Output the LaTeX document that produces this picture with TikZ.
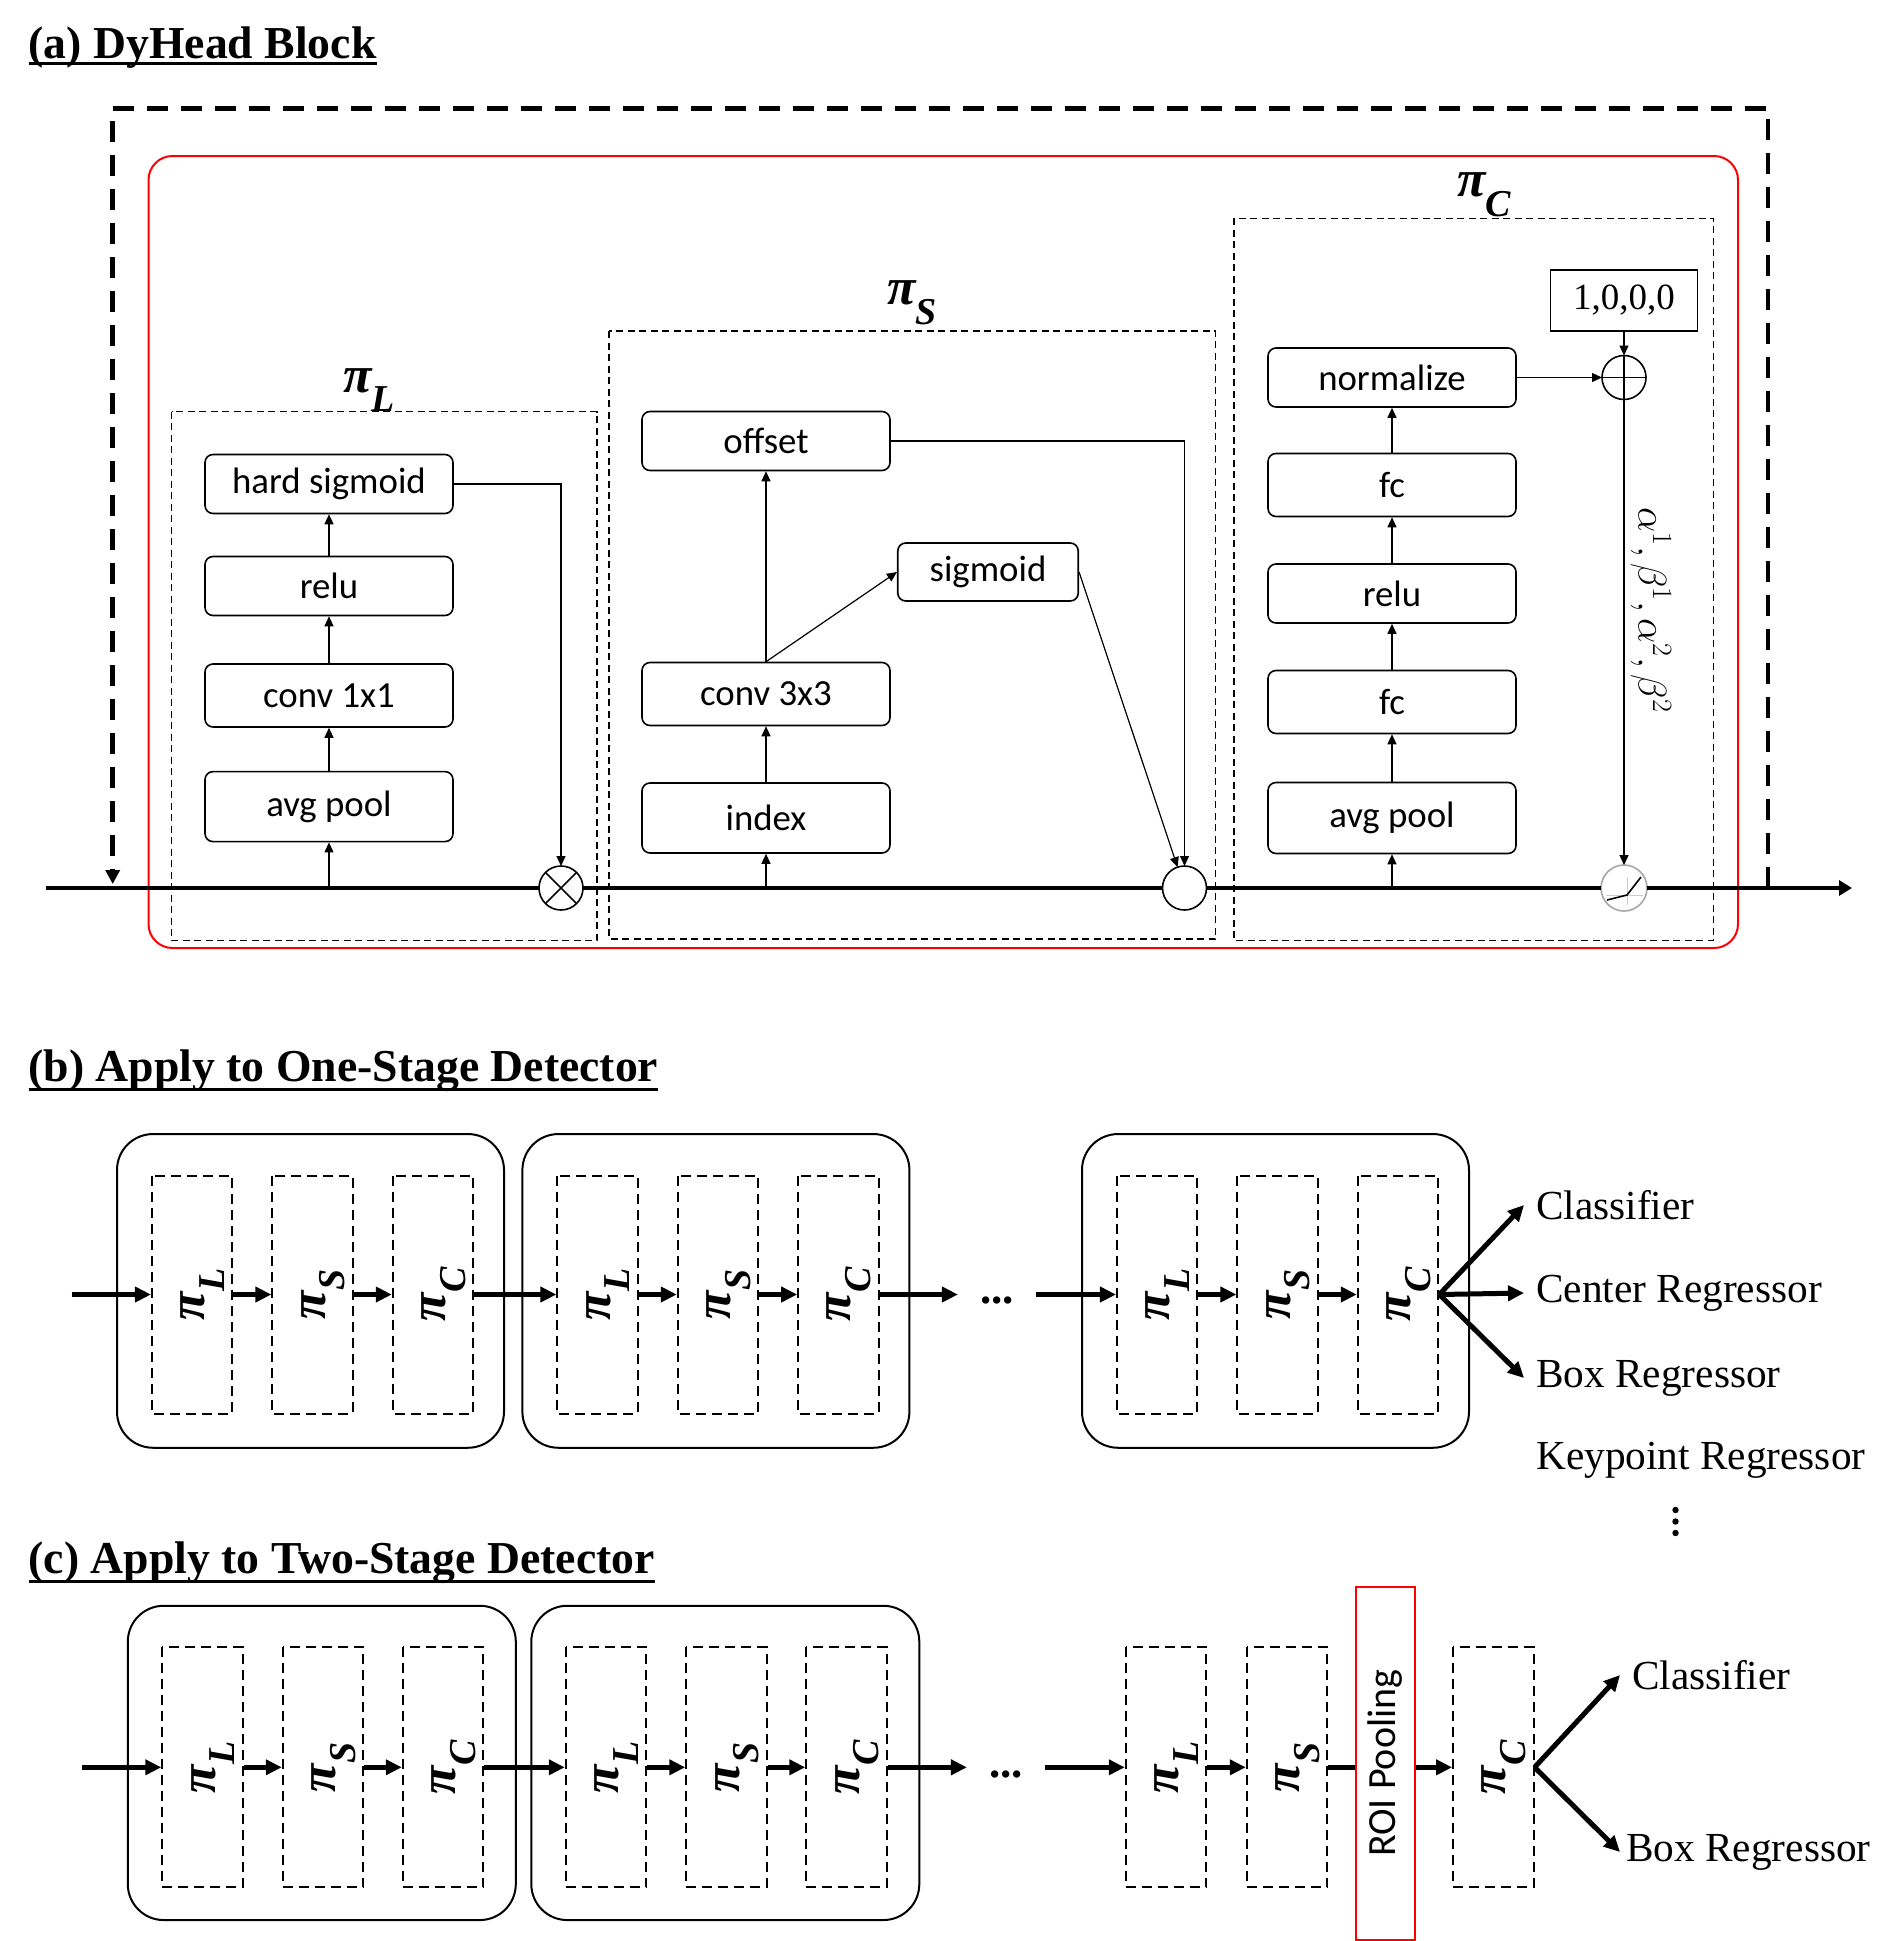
\RequirePackage{fix-cm}
\documentclass[tikz,border=0pt]{standalone}
\usepackage{amsmath}
\usepackage{fontspec}
\setmainfont{Liberation Serif}
\newfontfamily\calibrifam{Carlito}
\usepackage{xcolor}
\usepackage{tikz}
\usetikzlibrary{arrows.meta,positioning,calc}

\newcommand{\opfnt}{\calibrifam\fontsize{36.8}{44}\selectfont}
\newcommand{\roifnt}{\calibrifam\fontsize{40}{48}\selectfont}
\newcommand{\headfnt}{\bfseries\fontsize{45.7}{55}\selectfont}
\newcommand{\outfnt}{\fontsize{41.3}{50}\selectfont}
\newcommand{\pifnt}{\bfseries\itshape\fontsize{52}{62}\selectfont}
\newcommand{\coeffnt}{\fontsize{40}{48}\selectfont}
\newcommand{\initfnt}{\fontsize{37}{44}\selectfont}
\newcommand{\dotfnt}{\bfseries\fontsize{45}{54}\selectfont}
\newcommand{\pisub}[1]{π\raisebox{-0.38em}{\fontsize{38}{46}\selectfont #1}}

\begin{document}
\begin{tikzpicture}[x=1pt, y=-1pt,
    opbox/.style={draw, rounded corners=8pt, line width=1.6pt, minimum width=248pt, inner sep=0pt, font=\opfnt},
    opcirc/.style={circle, draw, fill=white, line width=1.6pt, minimum size=44pt, inner sep=0pt, outer sep=0pt},
    dashbox/.style={dash pattern=on 7pt off 4.5pt, line width=1.5pt},
    thinarr/.style={line width=1.2pt, -{Triangle[length=10pt,width=9pt]}},
    mainline/.style={line width=4pt},
    skipline/.style={line width=4.5pt, dash pattern=on 21pt off 13pt, -{Triangle[length=14pt,width=14pt]}},
    pilabel/.style={inner sep=0pt, font=\pifnt},
    paneltitle/.style={anchor=base west, inner sep=0pt, font=\headfnt},
    block/.style={draw, rounded corners=36pt, line width=2pt},
    stagebox/.style={draw, rotate=90, dash pattern=on 10pt off 6pt, line width=2pt, minimum width=238pt, minimum height=80.5pt, inner sep=0pt, text height=32pt, text depth=7pt, font=\pifnt},
    fatarr/.style={line width=5pt, -{Triangle[length=16pt,width=15pt]}},
    outlabel/.style={anchor=west, inner xsep=12pt, inner ysep=0pt, font=\outfnt},
    dotsnode/.style={inner xsep=22pt, inner ysep=0pt, font=\dotfnt}]
    \useasboundingbox (0,0) rectangle (1902,1941);

    % (a) DyHead block
    \node[paneltitle] (ta) at (28.5,58.8) {(a) DyHead Block};
    \draw[line width=3pt] ([yshift=-5pt]ta.base west) -- ([yshift=-5pt]ta.base east);

    \draw[red, line width=2pt, rounded corners=24pt] (148.5,156) rectangle (1738,948);
    \draw[dashbox] (171.5,411.5) rectangle (597,940.6);
    \draw[dashbox] (609,331) rectangle (1215.5,939);
    \draw[dashbox] (1234,218.4) rectangle (1713.6,940.6);
    \node[pilabel] (pl) at (369,390) {\pisub{L}};
    \node[pilabel] (ps) at (912,303) {\pisub{S}};
    \node[pilabel] (pc) at (1484,195) {\pisub{C}};

    % scale-aware attention
    \node[opbox, minimum height=59pt] (lsig) at (329,484) {hard sigmoid};
    \node[opbox, minimum height=59pt] (lrelu) at (329,586) {relu};
    \node[opbox, minimum height=63pt] (lconv) at (329,695.5) {conv 1x1};
    \node[opbox, minimum height=70pt] (lpool) at (329,806.6) {avg pool};

    % spatial-aware attention
    \node[opbox, minimum height=59pt] (soff) at (766,441) {offset};
    \node[opbox, minimum height=58pt, minimum width=180.5pt] (ssig) at (988,572) {sigmoid};
    \node[opbox, minimum height=63pt] (sconv) at (766,694) {conv 3x3};
    \node[opbox, minimum height=70pt] (sidx) at (766,818) {index};

    % task-aware attention
    \node[draw, line width=1.6pt, minimum width=147pt, minimum height=61pt, inner sep=0pt, font=\initfnt] (init) at (1624,300.5) {1,0,0,0};
    \node[opbox, minimum height=59pt] (cnorm) at (1392,377.5) {normalize};
    \node[opbox, minimum height=63pt] (cfcb) at (1392,485) {fc};
    \node[opbox, minimum height=59pt] (crelu) at (1392,593.5) {relu};
    \node[opbox, minimum height=63pt] (cfca) at (1392,702) {fc};
    \node[opbox, minimum height=71pt] (cpool) at (1392,818) {avg pool};

    \coordinate (in) at (45.5,888);
    \coordinate (out) at (1852,888);
    \node[opcirc] (mul) at (561,888) {};
    \node[opcirc] (mid) at (1184.5,888) {};
    \node[opcirc] (sum) at (1624,377.5) {};
    \node[opcirc, draw=gray!70, minimum size=46pt] (act) at (1624,888) {};
    \draw[line width=1.6pt] (mul.north east) -- (mul.south west) (mul.north west) -- (mul.south east);
    \draw[line width=1.6pt] (sum.north) -- (sum.south) (sum.west) -- (sum.east);
    \begin{scope}[shift={(act)}]
        \draw[gray!40, line width=1pt] (-18,7) -- (19,7) (3,-11) -- (3,17);
        \draw[line width=1.6pt] (-17,12) -- (3,7) -- (17,-11);
    \end{scope}

    \draw[mainline] (in) -- (mul) -- (mid) -- (act);
    \draw[mainline, -{Triangle[length=13pt,width=15pt]}] (act) -- (out);

    \draw[thinarr] (lpool |- in) -- (lpool);
    \draw[thinarr] (lpool) -- (lconv);
    \draw[thinarr] (lconv) -- (lrelu);
    \draw[thinarr] (lrelu) -- (lsig);
    \draw[thinarr] (lsig.east) -| (mul);

    \draw[thinarr] (sidx |- in) -- (sidx);
    \draw[thinarr] (sidx) -- (sconv);
    \draw[thinarr] (sconv) -- (soff);
    \draw[thinarr] (sconv.north) -- (ssig.west);
    \draw[thinarr] (soff.east) -| (mid);
    \draw[thinarr] (ssig.east) -- (mid);

    \draw[thinarr] (cpool |- in) -- (cpool);
    \draw[thinarr] (cpool) -- (cfca);
    \draw[thinarr] (cfca) -- (crelu);
    \draw[thinarr] (crelu) -- (cfcb);
    \draw[thinarr] (cfcb) -- (cnorm);
    \draw[thinarr] (cnorm) -- (sum);
    \draw[thinarr] (init) -- (sum);
    \draw[thinarr] (sum) -- (act);
    \node[rotate=-90, font=\coeffnt] (coef) at (1651,610) {$\alpha^1,\beta^1,\alpha^2,\beta^2$};

    \coordinate (skipR) at (1768,888);
    \coordinate (skipT) at (112.7,108.3);
    \coordinate (skipL) at (112.7,884);
    \draw[skipline] (skipR) |- (skipT) -- (skipL);

    % (b) one-stage detector
    \node[paneltitle] (tb) at (28.5,1081.7) {(b) Apply to One-Stage Detector};
    \draw[line width=3pt] ([yshift=-7.3pt]tb.base west) -- ([yshift=-7.3pt]tb.base east);

    \foreach \bx/\bn in {117/1,522.4/2,1082/3} {
        \node[block, minimum width=387pt, minimum height=313.7pt] (b\bn) at (\bx+193.5,1290.9) {};
        \node[stagebox] (bL\bn) at (\bx+75.2,1294.5) {\pisub{L}};
        \node[stagebox] (bS\bn) at (\bx+195.6,1294.5) {\pisub{S}};
        \node[stagebox] (bC\bn) at (\bx+316,1294.5) {\pisub{C}};
        \draw[fatarr] (bL\bn) -- (bS\bn);
        \draw[fatarr] (bS\bn) -- (bC\bn);
    }
    \coordinate (bin) at (71.5,1294.5);
    \draw[fatarr] (bin) -- (bL1);
    \draw[fatarr] (bC1) -- (bL2);
    \node[dotsnode] (bdots) at (997,1300.7) {...};
    \draw[fatarr] (bC2) -- (bdots.west |- bC2);
    \draw[fatarr] (bdots.east |- bL3) -- (bL3);

    \node[outlabel] (bcls) at (1524,1205) {Classifier};
    \node[outlabel] (bctr) at (1524,1293) {Center Regressor};
    \node[outlabel] (bbox) at (1524,1378) {Box Regressor};
    \node[outlabel] (bkey) at (1524,1460) {Keypoint Regressor};
    \draw[fatarr] (bC3.south) -- (bcls.west);
    \draw[fatarr] (bC3.south) -- (bctr.west);
    \draw[fatarr] (bC3.south) -- (bbox.west);
    \foreach \y in {1510,1521.5,1533} {
        \fill (1675.5,\y) circle (3.2pt);
    }

    % (c) two-stage detector
    \node[paneltitle] (tc) at (28.5,1573.3) {(c) Apply to Two-Stage Detector};
    \draw[line width=3pt] ([yshift=-7.7pt]tc.base west) -- ([yshift=-7.7pt]tc.base east);

    \foreach \bx/\bn in {128/1,531.5/2} {
        \node[block, minimum width=388pt, minimum height=314.3pt] (c\bn) at (\bx+193.8,1762.9) {};
        \node[stagebox, minimum width=240pt] (cL\bn) at (\bx+74.5,1767.3) {\pisub{L}};
        \node[stagebox, minimum width=240pt] (cS\bn) at (\bx+195,1767.3) {\pisub{S}};
        \node[stagebox, minimum width=240pt] (cC\bn) at (\bx+315,1767.3) {\pisub{C}};
        \draw[fatarr] (cL\bn) -- (cS\bn);
        \draw[fatarr] (cS\bn) -- (cC\bn);
    }
    \coordinate (cin) at (81.8,1767.3);
    \draw[fatarr] (cin) -- (cL1);
    \draw[fatarr] (cC1) -- (cL2);
    \node[dotsnode] (cdots) at (1006,1774) {...};
    \draw[fatarr] (cC2) -- (cdots.west |- cC2);

    \node[stagebox, minimum width=240pt] (cL3) at (1166,1767.3) {\pisub{L}};
    \node[stagebox, minimum width=240pt] (cS3) at (1287,1767.3) {\pisub{S}};
    \node[draw=red, line width=2pt, rotate=90, minimum width=353.3pt, minimum height=59pt, inner sep=0pt, font=\roifnt] (roi) at (1385.5,1763.3) {ROI Pooling};
    \node[stagebox, minimum width=240pt] (cC3) at (1493.3,1767.3) {\pisub{C}};
    \draw[fatarr] (cdots.east |- cL3) -- (cL3);
    \draw[fatarr] (cL3) -- (cS3);
    \draw[line width=5pt] (cS3) -- (cS3 -| roi.north);
    \draw[fatarr] (roi.south |- cC3) -- (cC3);

    \node[outlabel] (ccls) at (1620,1675) {Classifier};
    \node[outlabel, inner xsep=6pt] (cbox) at (1620,1852) {Box Regressor};
    \draw[fatarr] (cC3.south) -- (ccls.west);
    \draw[fatarr] (cC3.south) -- (cbox.west);
\end{tikzpicture}
\end{document}
